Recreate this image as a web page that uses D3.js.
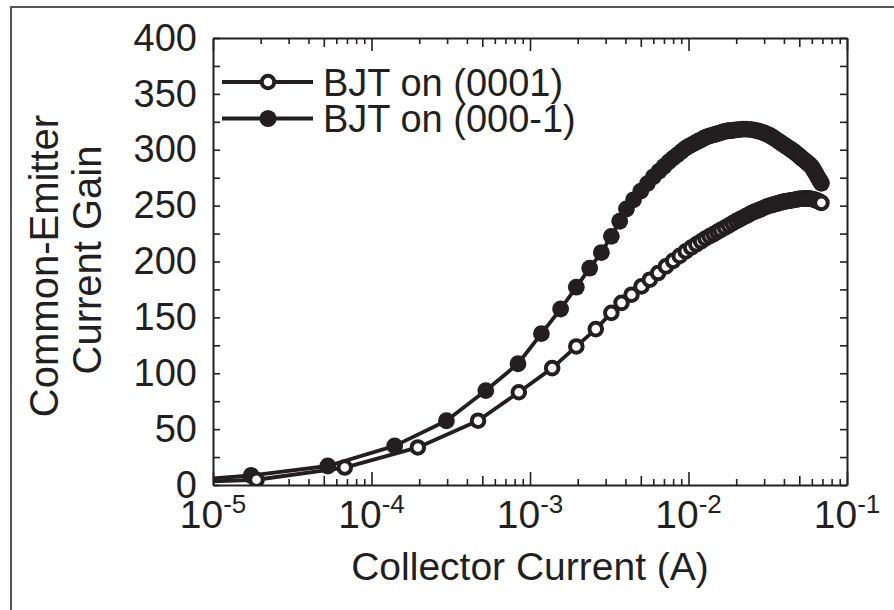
<!DOCTYPE html>
<html>
<head>
<meta charset="utf-8">
<script src="https://cdn.jsdelivr.net/npm/d3@7"></script>
<style>
  body { margin: 0; background: #fff; }
  svg text { font-family: "Liberation Sans", Arial, sans-serif; fill: #231f20; }
</style>
</head>
<body>
<svg id="chart" width="894" height="610"></svg>
<script>
// --- data (collector current in mA, gain) ---
const currentFilled = [0.0055, 0.0174, 0.053, 0.14, 0.297, 0.526, 0.84, 1.18, 1.56, 1.96, 2.38, 2.82, 3.26, 3.68, 4.06,
  4.5, 5, 5.5, 6, 6.5, 7, 7.5, 8, 8.5, 9, 9.5, 10, 10.5, 11, 11.5, 12, 12.5, 13, 13.5, 14, 14.5, 15, 15.5, 16, 16.5, 17, 17.5, 18, 18.5, 19, 19.5, 20,
  21, 22, 23, 24, 25, 26, 27, 28, 29, 30, 31, 32, 33, 34, 35, 36, 37, 38, 39, 40, 41, 42, 43, 44, 45, 46, 47, 48, 49, 50,
  51, 52, 53, 54, 55, 56, 57, 58, 59, 60, 61, 62, 63, 64, 65, 66, 67, 68, 69];
const gainFilled = [3, 8.5, 17, 35, 57.5, 84.5, 108.5, 135.5, 157.5, 177, 194, 208, 222.5, 236, 247,
  255.2, 263, 269.7, 275.8, 280.6, 285, 289.2, 292.5, 295.4, 298.3, 301, 303, 304.6, 306.1, 307.6, 308.9, 310.3, 311.5, 312.2, 312.9, 313.5, 314.1, 314.7, 315.3, 315.9, 316.4, 316.9, 317, 317.2, 317.4, 317.6, 317.8,
  318.1, 318.4, 318.5, 318.3, 318, 317.6, 317, 316.5, 315.8, 315, 314.2, 313.4, 312.3, 311.2, 310, 308.8, 307.7, 306.5, 305.5, 304.4, 303.4, 302.4, 301.5, 300.5, 299.6, 298.6, 297.4, 296.5, 295.5, 294.4,
  293.3, 292.3, 291.4, 290.5, 289.4, 288.6, 287.6, 286.8, 285.8, 284.6, 283, 281.3, 279.6, 278, 276.2, 274.5, 273, 271.4, 270];

const currentOpen = [0.006, 0.0188, 0.0678, 0.196, 0.47, 0.85, 1.38, 1.96, 2.6, 3.26, 3.78, 4.37, 5.05, 5.7, 6.43, 7.2,
  8, 8.8, 9.6, 10.4, 11.2, 12, 12.8, 13.6, 14.4, 15.2, 16, 17, 18, 19, 20,
  21, 22, 23, 24, 25, 26, 27, 28, 29, 30, 31, 32, 33, 34, 35, 36, 37, 38, 39, 40, 41, 42, 43, 44, 45, 46, 47, 48, 49, 50,
  51, 52, 53, 54, 55, 56, 57, 58, 59, 60, 61, 62, 63, 64, 65, 66, 67, 68, 69];
const gainOpen = [2, 4.7, 15.6, 33.6, 57.5, 83, 104.6, 124, 139.5, 154, 163, 170.3, 177.7, 183.7, 189.7, 195.6,
  200.6, 205, 209.1, 212.5, 215.4, 218.1, 220.6, 222.7, 224.6, 226.6, 228.3, 230.4, 232.4, 234.3, 236.1,
  237.7, 239.2, 240.7, 242, 243.4, 244.4, 245.4, 246.3, 247.2, 248.1, 249, 249.7, 250.3, 250.7, 251.3, 251.7, 252.2, 252.7, 253.1, 253.6,
  253.8, 254.1, 254.3, 254.6, 254.8, 255.1, 255.3, 255.5, 255.8, 256, 256.1, 256.2, 256.3, 256.4, 256.5, 256.5, 256.4, 256.3, 256.1, 255.9,
  255.7, 255.4, 255.1, 254.7, 254.3, 253.9, 253.5, 253, 252.5];

const yTickValues = [0, 25, 50, 75, 100, 125, 150, 175, 200, 225, 250, 275, 300, 325, 350, 375, 400];
const xMajorTicks = [1e-5, 1e-4, 1e-3, 1e-2, 1e-1];
const xMajorLabels = ["-5", "-4", "-3", "-2", "-1"];
const legendLabels = ["BJT on (0001)", "BJT on (000-1)"];

const ink = "#231f20";
const svg = d3.select("#chart");

// outer frame of the figure
svg.append("rect")
  .attr("x", 11).attr("y", 7).attr("width", 900).attr("height", 620)
  .attr("fill", "none").attr("stroke", "#555").attr("stroke-width", 2);

const x = d3.scaleLog().domain([1e-5, 1e-1]).range([213, 847]);
const y = d3.scaleLinear().domain([0, 400]).range([485, 38]);

svg.append("clipPath").attr("id", "plot-clip")
  .append("rect").attr("x", 213).attr("y", 30).attr("width", 634).attr("height", 455);

// tick length by position in the decade
function tickLen(d) {
  const m = Math.round(d / Math.pow(10, Math.floor(Math.log10(d) + 1e-9)));
  if (m === 1) return 13;
  if (m === 5) return 9;
  return 6;
}
const xTicks = x.ticks();

function styleAxis(g) {
  g.select(".domain").attr("stroke", ink).attr("stroke-width", 2);
  g.selectAll(".tick line").attr("stroke", ink).attr("stroke-width", 1.6);
}

// bottom axis
const gBottom = svg.append("g").attr("transform", "translate(0,485)")
  .call(d3.axisBottom(x).tickValues(xTicks).tickSizeOuter(0).tickFormat(""))
  .call(styleAxis);
gBottom.selectAll(".tick line").attr("y2", d => -tickLen(d));

const xLab = gBottom.selectAll(".xlab")
  .data(xMajorTicks)
  .join("text")
    .attr("class", "xlab")
    .attr("x", d => x(d))
    .attr("y", 43)
    .attr("text-anchor", "middle")
    .attr("fill", ink)
    .attr("stroke", "none");
xLab.append("tspan").attr("font-size", 39).text("10");
xLab.append("tspan").attr("font-size", 26).attr("dy", -15).text((d, i) => xMajorLabels[i]);

// top axis
const gTop = svg.append("g").attr("transform", "translate(0,38)")
  .call(d3.axisTop(x).tickValues(xTicks).tickSizeOuter(0).tickFormat(""))
  .call(styleAxis);
gTop.selectAll(".tick line").attr("y2", d => tickLen(d));

// left axis
const gLeft = svg.append("g").attr("transform", "translate(213,0)")
  .call(d3.axisLeft(y).tickValues(yTickValues).tickSize(-7).tickSizeOuter(0).tickPadding(16)
    .tickFormat(d => d % 50 === 0 ? d : ""))
  .call(styleAxis);
gLeft.selectAll(".tick text").attr("font-size", 38).attr("fill", ink)
  .attr("font-family", '"Liberation Sans", Arial, sans-serif');

// right axis
svg.append("g").attr("transform", "translate(847,0)")
  .call(d3.axisRight(y).tickValues(yTickValues).tickSize(-7).tickSizeOuter(0).tickFormat(""))
  .call(styleAxis);

// axis titles
svg.append("text").attr("x", 530).attr("y", 580).attr("text-anchor", "middle")
  .attr("font-size", 39).text("Collector Current (A)");
svg.append("text").attr("transform", "translate(58,266) rotate(-90)").attr("text-anchor", "middle")
  .attr("font-size", 40).text("Common-Emitter");
svg.append("text").attr("transform", "translate(101,260) rotate(-90)").attr("text-anchor", "middle")
  .attr("font-size", 40).text("Current Gain");

// series
const filled = currentFilled.map((c, i) => ({ I: c / 1000, g: gainFilled[i] }));
const open = currentOpen.map((c, i) => ({ I: c / 1000, g: gainOpen[i] }));

const line = d3.line().x(d => x(d.I)).y(d => y(d.g));
const plot = svg.append("g").attr("clip-path", "url(#plot-clip)");

function drawSeries(data, hollow) {
  plot.append("path").datum(data)
    .attr("d", line).attr("fill", "none")
    .attr("stroke", ink).attr("stroke-width", 3.8).attr("stroke-linejoin", "round");
  plot.append("g").selectAll("circle")
    .data(data)
    .join("circle")
      .attr("cx", d => x(d.I))
      .attr("cy", d => y(d.g))
      .attr("r", hollow ? 6.3 : 8.4)
      .attr("fill", hollow ? "#fff" : ink)
      .attr("stroke", hollow ? ink : "none")
      .attr("stroke-width", hollow ? 4 : 0);
}
drawSeries(filled, false);
drawSeries(open, true);

// legend
const legend = svg.append("g").selectAll("g")
  .data(legendLabels)
  .join("g")
    .attr("transform", (d, i) => `translate(0,${82 + i * 36.5})`);
legend.append("line").attr("x1", 222).attr("x2", 313)
  .attr("stroke", ink).attr("stroke-width", 4);
legend.append("circle").attr("cx", 268)
  .attr("r", (d, i) => i === 0 ? 6.3 : 8.6)
  .attr("fill", (d, i) => i === 0 ? "#fff" : ink)
  .attr("stroke", (d, i) => i === 0 ? ink : "none")
  .attr("stroke-width", 4);
legend.append("text").attr("x", 323).attr("y", 13.5)
  .attr("font-size", 38).text(d => d);
</script>
</body>
</html>
